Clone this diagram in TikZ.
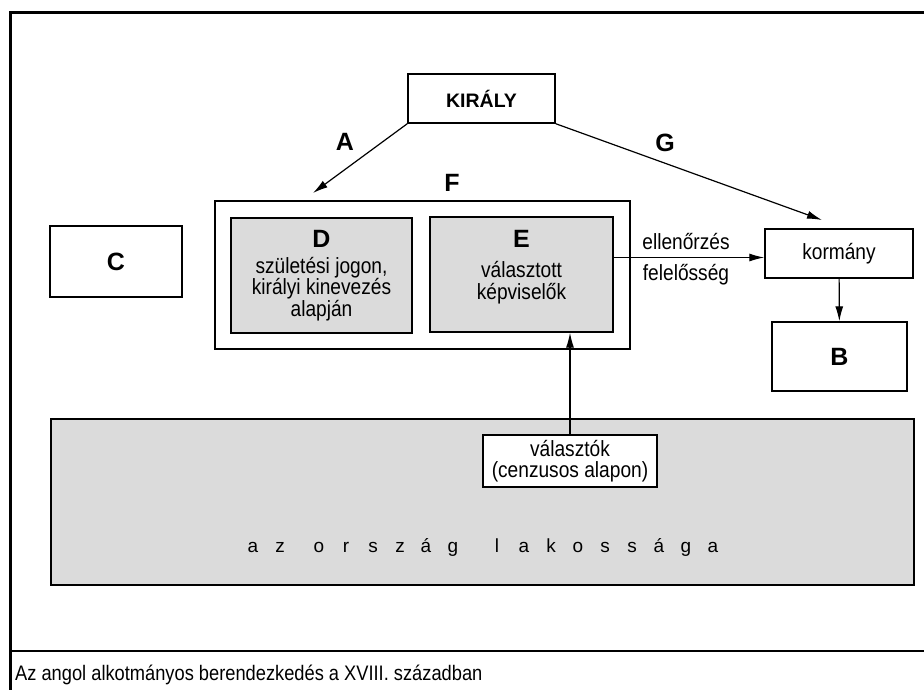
\documentclass[tikz,border=0pt]{standalone}
\usepackage{fontspec}
\setmainfont{Liberation Sans}
\newfontfamily\narrowfont{Liberation Sans}[FakeStretch=0.87]
\usetikzlibrary{arrows.meta,calc}
\begin{document}
\begin{tikzpicture}[x=1pt,y=-1pt,
  box/.style={draw, line width=1.4pt, inner sep=0pt},
  grayfill/.style={fill=black!14},
  arr/.style={line width=1.2pt, -{Latex[length=15pt,width=8pt]}},
  big/.style={font=\fontsize{25}{28}\selectfont\bfseries, inner sep=0pt},
  txt/.style={font=\narrowfont\fontsize{22}{21.5}\selectfont, align=center, inner sep=0pt},
  letter/.style={font=\narrowfont\fontsize{22}{24}\selectfont, inner sep=0pt, anchor=base},
]
\useasboundingbox (0,0) rectangle (924,690);
\fill[white] (0,0) rectangle (924,690);
% frame
\draw[line width=3.5pt] (924,12.5) -- (10.5,12.5) -- (10.5,690);
\draw[line width=1.2pt] (10.5,651) -- (924,651);

% boxes
\node[box, minimum width=147pt, minimum height=49pt,
      font=\fontsize{19.5}{21}\selectfont\bfseries] (kir) at (481.5,98.5) {KIRÁLY};
\node[box, minimum width=415pt, minimum height=148pt] (F) at (422.5,275) {};
\node[box, grayfill, minimum width=181pt, minimum height=115pt] (D) at (321.5,275.5) {};
\node[box, grayfill, minimum width=183pt, minimum height=115pt] (E) at (521.5,274.5) {};
\node[box, minimum width=132pt, minimum height=71pt, big] (C) at (116,261.5) {C};
\node[box, minimum width=148pt, minimum height=49pt, txt] (kor) at (839,253.5) {kormány};
\node[box, minimum width=135pt, minimum height=69pt, big] (B) at (839.5,356.5) {B};
\node[box, grayfill, line width=1.6pt, minimum width=863pt, minimum height=166pt] (pop) at (482.5,502) {};
\node[box, fill=white, minimum width=174pt, minimum height=52pt, txt] (val) at (570,461)
  {választók\\(cenzusos alapon)};

% labels
\node[big] (labA) at (345,142) {A};
\node[big] (labG) at (665,143) {G};
\node[big] (labF) at (452,183) {F};
\node[big] (labD) at (321.5,239) {D};
\node[big] (labE) at (521.5,239) {E};
\node[txt] (dtxt) at (321.5,289) {születési jogon,\\királyi kinevezés\\alapján};
\node[txt] (etxt) at (521.5,282.5) {választott\\képviselők};
\node[letter] (ell) at (686,249) {ellenőrzés};
\node[letter] (fel) at (686,280) {felelősség};

% population letters
\foreach \x/\c [count=\i] in {253/a,280/z,319/o,346/r,373/s,400/z,426/á,453/g,497/l,524/a,551/k,578/o,605/s,632/s,659/á,686/g,713/a}
  \node[inner sep=0pt, anchor=base, font=\fontsize{19}{21}\selectfont] (p\i) at (\x,552) {\c};

% caption
\node[inner sep=0pt, anchor=base west, font=\narrowfont\fontsize{21}{23}\selectfont] (cap) at (15,680)
  {Az angol alkotmányos berendezkedés a XVIII. században};

% connectors
\coordinate (aend) at (313,193);
\coordinate (gend) at (822,220);
\draw[arr] (kir.south west) -- (aend);
\draw[arr] (kir.south east) -- (gend);
\coordinate (ek) at ([yshift=-4pt]kor.west);
\draw[arr] (E.east |- ek) -- (ek);
\draw[arr] (kor) -- (B);
\draw[arr] (val.north) -- (val.north |- E.south);
\end{tikzpicture}
\end{document}
